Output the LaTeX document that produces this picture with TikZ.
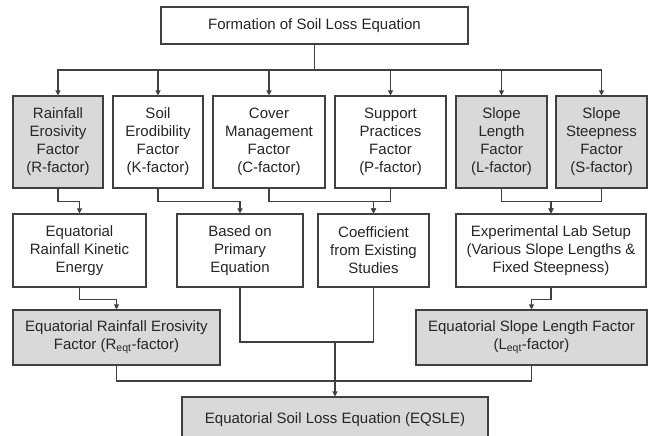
\documentclass[tikz,border=0pt]{standalone}
\usepackage{fontspec}
\setmainfont{Liberation Sans}
\usetikzlibrary{arrows.meta,calc,positioning}
\definecolor{BoxGray}{HTML}{D9D9D9}
\definecolor{LineInk}{HTML}{404040}
\definecolor{TextInk}{HTML}{262626}

\begin{document}
\begin{tikzpicture}[x=1pt, y=-1pt, >={Triangle[width=5pt,length=5pt]},
    every node/.style={font=\fontsize{15}{18}\selectfont, text=TextInk, align=center},
    factor/.style={draw=LineInk, line width=1.1pt, fill=white, inner sep=0pt},
    shaded/.style={factor, fill=BoxGray},
    link/.style={draw=LineInk, line width=1.1pt},
    linkarrow/.style={link, ->}]
  \useasboundingbox (0,0) rectangle (653,436);

  % Top of the tree.
  \node[factor, minimum width=307pt, minimum height=37pt] (formation) at (314.5,25.5)
    {Formation of Soil Loss Equation};

  % The six factors.
  \node[shaded, minimum width=90pt, minimum height=92pt] (rain) at (58,142)
    {Rainfall\\Erosivity\\Factor\\(R-factor)};
  \node[factor, minimum width=90pt, minimum height=92pt] (erod) at (158,142)
    {Soil\\Erodibility\\Factor\\(K-factor)};
  \node[factor, minimum width=112pt, minimum height=92pt] (cover) at (269,142)
    {Cover\\Management\\Factor\\(C-factor)};
  \node[factor, minimum width=111pt, minimum height=92pt] (support) at (390.5,142)
    {Support\\Practices\\Factor\\(P-factor)};
  \node[shaded, minimum width=91pt, minimum height=92pt] (slopelen) at (501.5,142)
    {Slope\\Length\\Factor\\(L-factor)};
  \node[shaded, minimum width=91pt, minimum height=92pt] (slopesteep) at (601.5,142)
    {Slope\\Steepness\\Factor\\(S-factor)};

  \coordinate (split) at (formation.south |- 0,70);
  \draw[link] (formation.south) -- (split);
  \foreach \f in {rain,erod,cover,support,slopelen,slopesteep}
    \draw[linkarrow] (split) -| (\f.north);

  % How each factor is obtained.
  \node[factor, minimum width=133pt, minimum height=73pt] (kinetic) at (79.5,250.5)
    {Equatorial\\Rainfall Kinetic\\Energy};
  \node[factor, minimum width=126pt, minimum height=73pt] (primary) at (240,250.5)
    {Based on\\Primary\\Equation};
  \node[factor, minimum width=111pt, minimum height=73pt] (coeff) at (373.5,250.5)
    {Coefficient\\from Existing\\Studies};
  \node[factor, minimum width=190pt, minimum height=73pt] (labsetup) at (551,250.5)
    {Experimental Lab Setup\\(Various Slope Lengths \&\\Fixed Steepness)};

  \draw[linkarrow] (rain.south) -- ++(0,13) -| (kinetic.north);
  \draw[linkarrow] (erod.south) -- ++(0,13) -| (primary.north);
  \draw[linkarrow] (cover.south) -- ++(0,13) -| (coeff.north);
  \draw[linkarrow] (support.south) -- ++(0,13) -| (coeff.north);
  \draw[linkarrow] (slopelen.south) -- ++(0,13) -| (labsetup.north);
  \draw[linkarrow] (slopesteep.south) -- ++(0,13) -| (labsetup.north);

  % Equatorial factors.
  \node[shaded, minimum width=207pt, minimum height=55pt] (reqt) at (116.5,337.5)
    {Equatorial Rainfall Erosivity\\Factor (R\textsubscript{eqt}-factor)};
  \node[shaded, minimum width=231pt, minimum height=55pt] (leqt) at (531.5,337.5)
    {Equatorial Slope Length Factor\\(L\textsubscript{eqt}-factor)};

  \draw[linkarrow] (kinetic.south) -- ++(0,12) -| (reqt.north);
  \draw[linkarrow] (labsetup.south) -- ++(0,12) -| (leqt.north);

  % Final equation.
  \node[shaded, minimum width=306pt, minimum height=46pt] (eqsle) at (335,420)
    {Equatorial Soil Loss Equation (EQSLE)};

  \coordinate (mergeA) at (eqsle.north |- 0,342);
  \coordinate (mergeB) at (eqsle.north |- 0,381);
  \draw[link] (primary.south) |- (mergeA);
  \draw[link] (coeff.south) |- (mergeA);
  \draw[link] (reqt.south) |- (mergeB);
  \draw[link] (leqt.south) |- (mergeB);
  \draw[linkarrow] (mergeA) -- (eqsle.north);
\end{tikzpicture}
\end{document}
